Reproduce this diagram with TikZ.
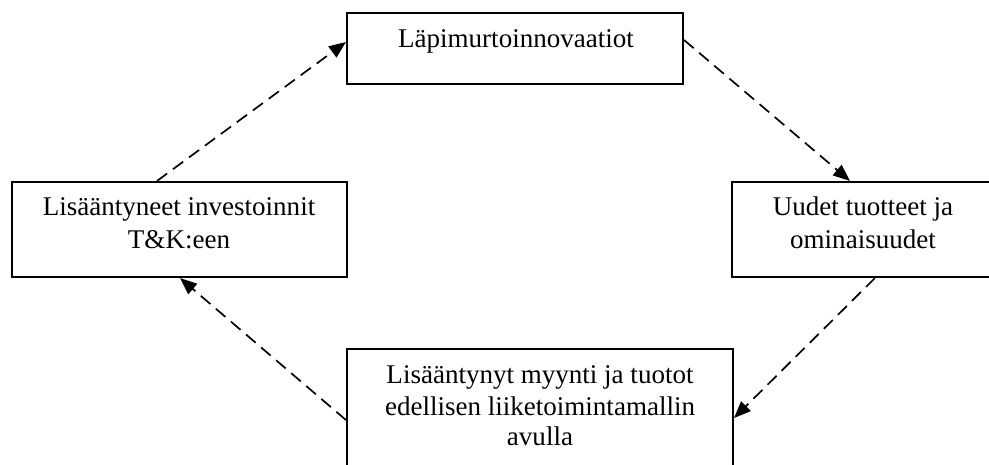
\documentclass[tikz,border=0pt]{standalone}
\usepackage{fontspec}
\setmainfont{Liberation Serif}
\usetikzlibrary{arrows.meta,calc}
\begin{document}
\begin{tikzpicture}[x=0.444pt,y=-0.444pt,
  box/.style={draw,line width=0.9pt,inner sep=0pt,rectangle},
  txt/.style={font=\fontsize{12}{14}\selectfont,inner sep=0pt,anchor=base},
  flow/.style={line width=0.75pt,dash pattern=on 5.6pt off 3.2pt,
    -{Triangle[length=7.5pt,width=6pt]}}]
% page frame
\path[use as bounding box,clip] (0,0) rectangle (989,465);

% boxes
\node[box,minimum width=149.2pt,minimum height=31.5pt] (top) at (515,48.5) {};
\node[box,minimum width=148.7pt,minimum height=42.2pt] (left) at (179.5,229.5) {};
\node[box,minimum width=116.3pt,minimum height=42.2pt] (right) at (863,229.5) {};
\node[box,minimum width=171.4pt,minimum height=55.9pt] (bottom) at (540,412) {};

% labels
\node[txt] (topT) at (516,47) {Läpimurtoinnovaatiot};
\node[txt] (leftT1) at (179,215) {Lisääntyneet investoinnit};
\node[txt] (leftT2) at (179,248) {T\&K:een};
\node[txt] (rightT1) at (863,215) {Uudet tuotteet ja};
\node[txt] (rightT2) at (863,248) {ominaisuudet};
\node[txt] (bottomT1) at (540,383) {Lisääntynyt myynti ja tuotot};
\node[txt] (bottomT2) at (540,415) {edellisen liiketoimintamallin};
\node[txt] (bottomT3) at (540,445) {avulla};

% cycle connectors
\draw[flow] ($(left.north)+(-22.5,0)$) -- ($(top.west)+(0,-6.5)$);
\draw[flow] ($(top.east)+(0,-8.5)$) -- ($(right.north)+(-13,0)$);
\draw[flow] ($(right.south)+(12,0)$) -- ($(bottom.east)+(0,6)$);
\draw[flow] ($(bottom.west)+(0,8)$) -- ($(left.south)+(0.5,0)$);
\end{tikzpicture}
\end{document}
